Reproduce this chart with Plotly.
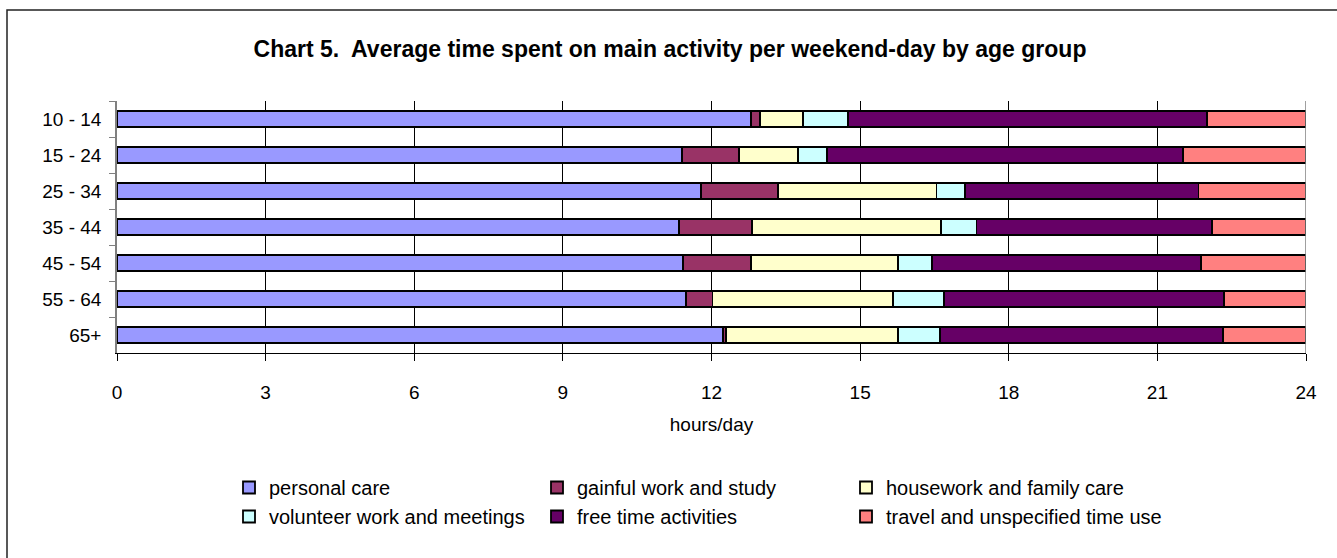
import plotly.graph_objects as go

# Age groups (top to bottom) and hours per weekend-day for each activity
age_groups = ["10 - 14", "15 - 24", "25 - 34", "35 - 44", "45 - 54", "55 - 64", "65+"]

personal_care = [12.80, 11.40, 11.78, 11.34, 11.42, 11.48, 12.24]
gainful_work = [0.18, 1.15, 1.56, 1.48, 1.38, 0.54, 0.05]
housework = [0.87, 1.19, 3.20, 3.82, 2.96, 3.65, 3.47]
volunteer = [0.90, 0.59, 0.58, 0.71, 0.69, 1.03, 0.85]
free_time = [7.25, 7.19, 4.71, 4.76, 5.43, 5.65, 5.72]
travel = [2.00, 2.48, 2.17, 1.89, 2.12, 1.65, 1.67]

x_ticks = [0, 3, 6, 9, 12, 15, 18, 21, 24]

series = [
    ("personal care", personal_care, "#9999FF", "legend"),
    ("gainful work and study", gainful_work, "#993366", "legend2"),
    ("housework and family care", housework, "#FFFFCC", "legend3"),
    ("volunteer work and meetings", volunteer, "#CCFFFF", "legend"),
    ("free time activities", free_time, "#660066", "legend2"),
    ("travel and unspecified time use", travel, "#FF8080", "legend3"),
]

FONT = "Liberation Sans, Arial, sans-serif"

fig = go.Figure()
for name, vals, color, lg in series:
    fig.add_trace(go.Bar(
        y=age_groups, x=vals, name=name, orientation="h",
        marker=dict(color=color, line=dict(color="black", width=1.8)),
        legend=lg,
    ))

# plot area in pixels
W, H = 1337, 558
L, R, T, B = 117, 31, 101, 205
pw, ph = W - L - R, H - T - B

def px_x(p):
    return (p - L) / pw

def px_y(p):
    return (H - B - p) / ph

legend_common = dict(
    font=dict(family=FONT, size=20, color="black"),
    bgcolor="rgba(0,0,0,0)", orientation="v", yanchor="top", xanchor="left",
    traceorder="normal", tracegroupgap=0, itemclick=False,
)

fig.update_layout(
    width=W, height=H,
    margin=dict(l=L, r=R, t=T, b=B),
    paper_bgcolor="white", plot_bgcolor="white",
    barmode="stack", bargap=0.57,
    font=dict(family=FONT, size=19, color="black"),
    title=dict(
        text="<b>Chart 5.  Average time spent on main activity per weekend-day by age group</b>",
        x=670 / W, xref="container", xanchor="center", y=1 - 49 / H, yanchor="middle",
        font=dict(family=FONT, size=23, color="black"),
    ),
    xaxis=dict(
        range=[0, 24], tickvals=x_ticks, ticktext=[str(v) for v in x_ticks],
        showgrid=True, gridcolor="black", gridwidth=1,
        showline=True, linecolor="black", linewidth=1.2,
        ticks="outside", ticklen=7, tickcolor="black",
        ticklabelstandoff=15, zeroline=False,
        title=dict(text="hours/day", standoff=15, font=dict(size=19)),
        tickfont=dict(size=19),
    ),
    yaxis=dict(
        categoryorder="array", categoryarray=age_groups, autorange="reversed",
        showline=True, linecolor="#808080", linewidth=1.5,
        ticks="outside", ticklen=6, tickcolor="#808080", tickson="boundaries",
        showgrid=False, ticklabelstandoff=10, tickfont=dict(size=19),
    ),
    legend=dict(x=px_x(229), y=px_y(468), **legend_common),
    legend2=dict(x=px_x(537), y=px_y(468), **legend_common),
    legend3=dict(x=px_x(846), y=px_y(468), **legend_common),
    showlegend=True,
    shapes=[
        dict(type="rect", xref="paper", yref="paper",
             x0=px_x(7), x1=px_x(1345), y0=px_y(570), y1=px_y(10),
             line=dict(color="#222222", width=1.5), fillcolor="rgba(0,0,0,0)", layer="below"),
        dict(type="line", xref="x", yref="paper", x0=24, x1=24, y0=0, y1=1,
             line=dict(color="#808080", width=1.5)),
    ],
)

fig.write_html("out.html")
